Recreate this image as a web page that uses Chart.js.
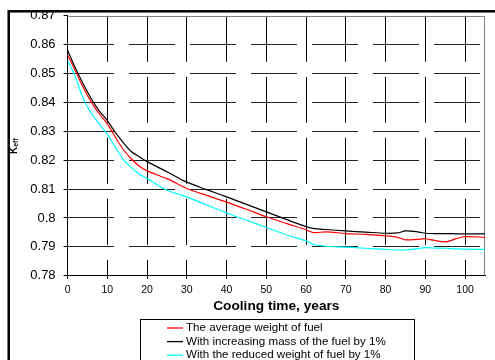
<!DOCTYPE html>
<html>
<head>
<meta charset="utf-8">
<script src="https://cdn.jsdelivr.net/npm/chart.js@4"></script>
<style>
  html, body { margin: 0; padding: 0; background: #fff; }
</style>
</head>
<body>
<canvas id="chart" width="495" height="360"></canvas>
<script>
// === DATA ===
const years = [0, 2, 4, 6, 8, 10, 12, 14, 16, 18, 20, 25, 30, 35, 40, 45, 50, 55, 60, 62, 65, 70, 75, 80, 83, 85, 88, 90, 92, 95, 98, 100, 105];
const avgWeight = [0.8565, 0.8508, 0.8450, 0.8400, 0.8360, 0.8326, 0.8280, 0.8237, 0.8205, 0.8180, 0.8163, 0.8136, 0.8102, 0.8078, 0.8055, 0.8030, 0.8004, 0.7981, 0.7959, 0.7949, 0.7952, 0.7946, 0.7943, 0.7938, 0.7933, 0.7924, 0.7926, 0.7928, 0.7923, 0.7917, 0.7929, 0.7935, 0.7933];
const moreMass = [0.8581, 0.8518, 0.8462, 0.8412, 0.8370, 0.8337, 0.8296, 0.8261, 0.8230, 0.8212, 0.8195, 0.8160, 0.8124, 0.8098, 0.8073, 0.8047, 0.8021, 0.7995, 0.7970, 0.7963, 0.7960, 0.7955, 0.7951, 0.7947, 0.7948, 0.7955, 0.7952, 0.7947, 0.7946, 0.7946, 0.7945, 0.7945, 0.7945];
const lessWeight = [0.8545, 0.8487, 0.8410, 0.8362, 0.8325, 0.8290, 0.8245, 0.8203, 0.8175, 0.8152, 0.8137, 0.8096, 0.8073, 0.8045, 0.8017, 0.7992, 0.7967, 0.7942, 0.7920, 0.7908, 0.7902, 0.7899, 0.7895, 0.7891, 0.7889, 0.7889, 0.7894, 0.7897, 0.7896, 0.7895, 0.7893, 0.7892, 0.7891];
const seriesLabels = ['The average weight of fuel', 'With increasing mass of the fuel by 1%', 'With the reduced weight of fuel by 1%'];
const seriesColors = ['#ff0000', '#000000', '#00ffff'];
const xTitle = 'Cooling time, years';

const FONT = '"Liberation Sans", Arial, sans-serif';

function pts(vals) {
  return years.map((x, i) => ({ x, y: vals[i] }));
}

// === PLUGIN: frame, keff label, legend box ===
const excelBits = {
  id: 'excelBits',
  beforeDatasetsDraw(chart) {
    const { ctx, chartArea: a } = chart;
    ctx.save();
    ctx.strokeStyle = '#808080';
    ctx.lineWidth = 1;
    ctx.beginPath();
    ctx.moveTo(a.left, Math.round(a.top) + 0.5);
    ctx.lineTo(Math.round(a.right) - 0.5, Math.round(a.top) + 0.5);
    ctx.lineTo(Math.round(a.right) - 0.5, a.bottom);
    ctx.stroke();
    ctx.restore();
  },
  afterDraw(chart) {
    const ctx = chart.ctx;
    ctx.save();
    // outer frame
    ctx.strokeStyle = '#000';
    ctx.lineWidth = 2.5;
    ctx.strokeRect(8.7, 11.3, 700, 700);

    // y axis title: K with subscript eff
    ctx.translate(16.5, 154);
    ctx.rotate(-Math.PI / 2);
    ctx.fillStyle = '#000';
    ctx.textBaseline = 'alphabetic';
    ctx.font = 'bold 10px ' + FONT;
    ctx.fillText('K', 0, 0);
    const kw = ctx.measureText('K').width;
    ctx.font = 'bold 7px ' + FONT;
    ctx.fillText('eff', kw, 1.5);
    ctx.setTransform(1, 0, 0, 1, 0, 0);

    // legend box
    ctx.lineWidth = 1;
    ctx.strokeRect(140.5, 319.5, 274, 60);
    ctx.font = '11.6px ' + FONT;
    ctx.textBaseline = 'middle';
    chart.data.datasets.forEach((ds, i) => {
      const y = 328 + i * 13.6;
      ctx.strokeStyle = ds.borderColor;
      ctx.lineWidth = 1.3;
      ctx.beginPath();
      ctx.moveTo(167, y);
      ctx.lineTo(183, y);
      ctx.stroke();
      ctx.fillStyle = '#000';
      ctx.fillText(ds.label, 186, y);
    });
    ctx.restore();
  }
};

// === CHART ===
new Chart(document.getElementById('chart'), {
  type: 'line',
  data: {
    datasets: [
      { label: seriesLabels[0], data: pts(avgWeight), borderColor: seriesColors[0] },
      { label: seriesLabels[1], data: pts(moreMass), borderColor: seriesColors[1] },
      { label: seriesLabels[2], data: pts(lessWeight), borderColor: seriesColors[2] }
    ]
  },
  options: {
    responsive: false,
    animation: false,
    devicePixelRatio: 1,
    layout: { padding: { top: 15, right: 10, left: 0, bottom: 0 } },
    elements: {
      point: { radius: 0 },
      line: { borderWidth: 1.2, tension: 0.3, fill: false }
    },
    plugins: {
      legend: { display: false },
      tooltip: { enabled: false }
    },
    scales: {
      x: {
        type: 'linear',
        min: 0,
        max: 105,
        afterFit: s => { s.height = 84.3; },
        ticks: {
          stepSize: 10,
          includeBounds: false,
          color: '#000',
          padding: 5,
          maxRotation: 0,
          font: { family: FONT, size: 10.5 }
        },
        grid: {
          color: '#000',
          lineWidth: 1,
          tickLength: 3,
          tickColor: '#000',
          tickBorderDash: []
        },
        border: { display: true, color: '#000', width: 1, dash: [46, 15] },
        title: {
          display: true,
          text: xTitle,
          color: '#000',
          padding: { top: 0, bottom: 46 },
          font: { family: FONT, size: 13.7, weight: 'bold' }
        }
      },
      y: {
        min: 0.78,
        max: 0.87,
        afterFit: s => { s.width = 67.6; },
        ticks: {
          stepSize: 0.01,
          color: '#000',
          padding: 8,
          font: { family: FONT, size: 13 },
          callback: v => String(Number(v.toFixed(2)))
        },
        grid: {
          color: ctx => (ctx.index === 9 ? 'rgba(0,0,0,0)' : '#222'),
          lineWidth: 1,
          tickLength: 4,
          tickColor: '#000',
          tickBorderDash: []
        },
        border: { display: true, color: '#000', width: 1, dash: [46, 15] }
      }
    }
  },
  plugins: [excelBits]
});
</script>
</body>
</html>
